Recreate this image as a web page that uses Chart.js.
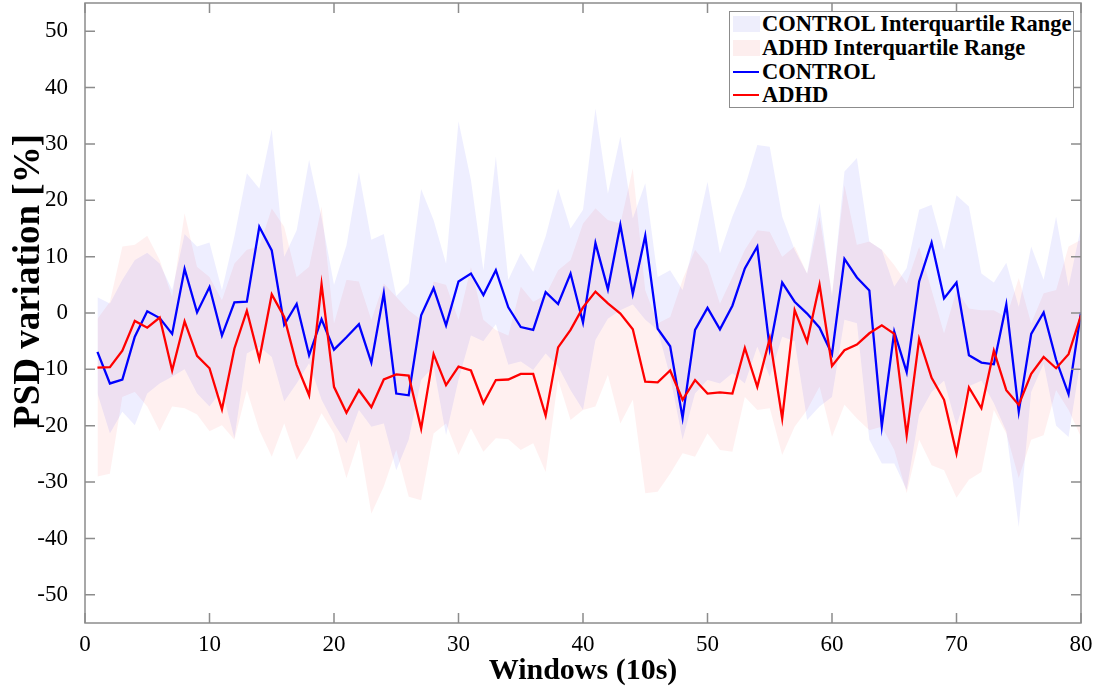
<!DOCTYPE html>
<html>
<head>
<meta charset="utf-8">
<script src="https://cdn.jsdelivr.net/npm/chart.js@4.4.1/dist/chart.umd.min.js"></script>
<style>
  body { margin: 0; background: #fff; }
  #wrap { position: relative; width: 1099px; height: 689px; }
  #legend {
    position: absolute; left: 729px; top: 11px; width: 343px; height: 95px;
    border: 1px solid #8c8c8c; background: #fff;
    font: bold 22.5px "Liberation Serif", serif; color: #000;
  }
  .row { position: absolute; left: 0; height: 24px; line-height: 24px; white-space: nowrap; }
  .row span { position: absolute; left: 32px; top: 0; }
  .patch { position: absolute; left: 3px; top: 4px; width: 27px; height: 16px; }
  .ln { position: absolute; left: 3px; top: 11px; width: 26px; height: 2px; }
</style>
</head>
<body>
<div id="wrap">
  <canvas id="psd"></canvas>
  <div id="legend">
    <div class="row" style="top:0px"><div class="patch" style="background:#eeeefc"></div><span>CONTROL Interquartile Range</span></div>
    <div class="row" style="top:24px"><div class="patch" style="background:#fdeeee"></div><span>ADHD Interquartile Range</span></div>
    <div class="row" style="top:48px"><div class="ln" style="background:#0000ff"></div><span>CONTROL</span></div>
    <div class="row" style="top:71px"><div class="ln" style="background:#ff0000"></div><span>ADHD</span></div>
  </div>
</div>
<script>
// windows (x) 1..80
var windows = [1,2,3,4,5,6,7,8,9,10,11,12,13,14,15,16,17,18,19,20,
  21,22,23,24,25,26,27,28,29,30,31,32,33,34,35,36,37,38,39,40,
  41,42,43,44,45,46,47,48,49,50,51,52,53,54,55,56,57,58,59,60,
  61,62,63,64,65,66,67,68,69,70,71,72,73,74,75,76,77,78,79,80];

// medians
var controlMed = [-6.9,-12.5,-11.8,-4.2,0.3,-0.9,-3.7,7.8,0.1,4.6,
  -4.0,1.9,2.0,15.3,11.1,-2.1,1.6,-7.5,-1.1,-6.5,
  -4.3,-2.0,-8.8,3.5,-14.3,-14.6,-0.4,4.4,-2.2,5.6,
  7.0,3.2,7.6,1.0,-2.5,-3.0,3.7,1.6,7.0,-1.7,
  12.4,4.2,15.6,3.4,13.7,-2.8,-5.9,-18.6,-3.0,0.9,
  -2.9,1.3,7.9,11.8,-6.3,5.4,2.0,-0.1,-2.6,-7.3,
  9.6,6.3,4.0,-20.1,-3.3,-10.5,5.6,12.5,2.6,5.4,
  -7.5,-8.8,-9.1,1.5,-17.5,-3.7,0.1,-8.3,-14.4,0.1];
var adhdMed = [-9.7,-9.6,-6.7,-1.4,-2.6,-0.8,-10.2,-1.5,-7.6,-9.8,
  -17.1,-6.3,0.4,-8.2,3.3,-0.7,-9.2,-14.6,5.1,-13.1,
  -17.7,-13.7,-16.7,-11.8,-10.9,-11.1,-20.5,-7.3,-12.8,-9.5,
  -10.2,-16.0,-11.9,-11.8,-10.8,-10.8,-18.2,-6.1,-3.0,1.0,
  3.8,1.7,-0.1,-2.9,-12.2,-12.3,-10.2,-15.4,-11.9,-14.3,
  -14.1,-14.3,-6.2,-13.1,-4.5,-18.7,0.5,-5.1,5.0,-9.4,
  -6.6,-5.6,-3.6,-2.2,-3.7,-21.7,-4.6,-11.5,-15.4,-24.9,
  -13.2,-16.9,-6.7,-13.7,-16.3,-10.8,-7.8,-9.8,-7.3,-0.4];

// interquartile bounds
var controlQ3 = [2.8,1.7,5.9,9.4,10.7,8.8,4.1,14.0,11.8,12.5,
  4.1,13.6,24.8,22.1,32.6,10.0,14.7,27.2,17.0,5.0,
  12.0,25.0,13.0,14.0,3.0,5.3,22.0,16.5,8.8,34.0,
  23.6,7.6,27.8,5.9,10.6,7.3,13.6,22.1,15.0,18.3,
  36.3,21.2,31.3,16.8,23.0,6.4,7.6,4.1,13.3,23.3,
  10.6,17.1,22.4,29.8,29.5,17.1,11.2,7.0,19.5,2.9,
  25.1,27.5,12.7,11.2,4.7,8.0,18.3,19.2,11.2,20.9,
  18.9,7.0,5.4,8.9,1.1,11.8,5.9,17.1,4.7,15.3];
var controlQ1 = [-14.3,-21.4,-17.5,-19.9,-14.3,-12.5,-11.3,-10.0,-14.3,-16.6,
  -13.7,-22.2,-7.2,-6.0,-7.8,-15.7,-12.5,-8.9,-15.4,-19.6,
  -23.1,-17.2,-20.2,-19.6,-27.9,-22.5,-11.9,-9.5,-21.7,-11.9,
  -4.0,-5.0,-2.0,-9.2,-8.6,-10.1,-7.2,-9.5,-13.7,-17.2,
  -4.8,-1.0,0.5,1.5,-1.2,-3.0,-11.3,-22.5,-14.3,-11.9,
  -12.5,-10.7,-12.5,-6.0,-11.3,-4.2,-5.0,-19.0,-16.6,-14.9,
  -1.2,-1.8,-22.5,-26.7,-26.7,-31.4,-18.0,-14.0,-12.0,-20.0,
  -13.0,-12.0,-16.0,-21.0,-38.0,-14.0,-9.0,-20.0,-22.0,-8.0];
var adhdQ3 = [-1.0,2.0,11.8,12.1,13.7,9.4,2.9,17.7,8.2,6.4,
  2.3,8.8,11.2,11.8,18.6,15.3,6.4,8.2,18.9,-1.8,
  5.9,5.6,-1.2,5.3,2.9,0.5,-1.2,5.6,5.0,-1.2,
  8.2,-1.2,-3.0,-4.0,4.7,2.0,3.2,7.6,9.4,15.9,
  18.6,16.5,15.9,25.7,4.1,-1.8,-0.7,5.9,11.2,8.5,
  1.7,6.4,11.2,14.7,14.4,10.0,11.8,7.0,17.1,3.5,
  22.7,12.1,12.7,11.2,8.5,5.3,11.8,4.1,-3.6,4.1,
  0.8,0.5,0.5,-0.7,6.2,-1.8,3.5,4.1,11.8,13.0];
var adhdQ1 = [-29.0,-28.5,-14.9,-14.0,-16.6,-21.0,-16.6,-16.9,-18.0,-21.0,
  -19.9,-22.5,-13.7,-20.8,-25.5,-19.6,-26.1,-22.5,-17.8,-21.4,
  -29.3,-22.5,-35.6,-30.8,-24.3,-32.6,-33.2,-21.4,-19.6,-25.2,
  -20.5,-24.6,-22.2,-22.4,-24.3,-23.1,-28.2,-11.9,-19.0,-17.2,
  -16.6,-11.0,-19.6,-15.4,-32.0,-31.7,-28.5,-24.9,-25.5,-21.4,
  -24.3,-24.6,-14.9,-17.2,-16.9,-25.2,-20.2,-17.2,-13.1,-22.0,
  -16.3,-18.7,-20.8,-20.2,-24.3,-32.0,-22.5,-27.0,-27.9,-32.8,
  -29.6,-28.2,-17.2,-21.4,-29.3,-22.5,-21.7,-13.7,-17.2,-22.0];

var xTicks = [0, 10, 20, 30, 40, 50, 60, 70, 80];
var yTicks = [-50, -40, -30, -20, -10, 0, 10, 20, 30, 40, 50];

function pts(vals) {
  return vals.map(function (v, i) { return { x: windows[i], y: v }; });
}

var serif = '"Liberation Serif", "Times New Roman", serif';

// MATLAB-like box with inward ticks, plus the y label
var boxPlugin = {
  id: 'box',
  afterDraw: function (chart) {
    var ctx = chart.ctx, a = chart.chartArea;
    var sx = chart.scales.x, sy = chart.scales.y;
    ctx.save();
    ctx.strokeStyle = '#8c8c8c';
    ctx.lineWidth = 1.5;
    ctx.strokeRect(a.left, a.top, a.right - a.left, a.bottom - a.top);
    ctx.beginPath();
    yTicks.forEach(function (v) {
      var y = sy.getPixelForValue(v);
      ctx.moveTo(a.left, y); ctx.lineTo(a.left + 10, y);
      ctx.moveTo(a.right, y); ctx.lineTo(a.right - 10, y);
    });
    xTicks.forEach(function (v) {
      var x = sx.getPixelForValue(v);
      ctx.moveTo(x, a.bottom); ctx.lineTo(x, a.bottom - 10);
      ctx.moveTo(x, a.top); ctx.lineTo(x, a.top + 10);
    });
    ctx.stroke();

    // y label (sits a bit above the axis centre in the original)
    ctx.translate(29, 281);
    ctx.rotate(-Math.PI / 2);
    ctx.fillStyle = '#000';
    ctx.font = 'bold 37px ' + serif;
    ctx.textAlign = 'center';
    ctx.textBaseline = 'middle';
    ctx.fillText('PSD variation [%]', 0, 0);
    ctx.restore();
  }
};

var band = { borderColor: 'rgba(0,0,0,0)', borderWidth: 0, pointRadius: 0, tension: 0 };

new Chart(document.getElementById('psd'), {
  type: 'line',
  data: {
    datasets: [
      { label: 'ADHD', data: pts(adhdMed), borderColor: '#ff0000', borderWidth: 2.3, pointRadius: 0, fill: false, order: 0 },
      { label: 'CONTROL', data: pts(controlMed), borderColor: '#0000ff', borderWidth: 2.3, pointRadius: 0, fill: false, order: 1 },
      Object.assign({ label: 'CONTROL Q3', data: pts(controlQ3), fill: '+1', backgroundColor: 'rgba(0,0,255,0.065)', order: 2 }, band),
      Object.assign({ label: 'CONTROL Q1', data: pts(controlQ1), fill: false, order: 3 }, band),
      Object.assign({ label: 'ADHD Q3', data: pts(adhdQ3), fill: '+1', backgroundColor: 'rgba(255,0,0,0.06)', order: 4 }, band),
      Object.assign({ label: 'ADHD Q1', data: pts(adhdQ1), fill: false, order: 5 }, band)
    ]
  },
  options: {
    responsive: true,
    maintainAspectRatio: false,
    animation: false,
    layout: { padding: { top: 3, right: 18, left: 0, bottom: 0 } },
    plugins: {
      legend: { display: false },
      tooltip: { enabled: false },
      filler: { drawTime: 'beforeDatasetsDraw' }
    },
    scales: {
      x: {
        type: 'linear', min: 0, max: 80,
        afterBuildTicks: function (s) { s.ticks = xTicks.map(function (v) { return { value: v }; }); },
        afterFit: function (s) { s.height = 66; s.paddingLeft = 0; s.paddingRight = 0; },
        grid: { display: false, drawTicks: false },
        border: { display: false },
        ticks: { color: '#000', font: { family: serif, size: 23 }, padding: 8, maxRotation: 0 },
        title: { display: true, text: 'Windows (10s)', color: '#000', font: { family: serif, size: 30, weight: 'bold' }, padding: { top: 0, bottom: 0 } }
      },
      y: {
        min: -55, max: 55,
        afterBuildTicks: function (s) { s.ticks = yTicks.map(function (v) { return { value: v }; }); },
        afterFit: function (s) { s.width = 85; s.paddingTop = 0; s.paddingBottom = 0; },
        grid: { display: false, drawTicks: false },
        border: { display: false },
        ticks: { color: '#000', font: { family: serif, size: 23 }, padding: 17 }
      }
    }
  },
  plugins: [boxPlugin]
});
</script>
</body>
</html>
